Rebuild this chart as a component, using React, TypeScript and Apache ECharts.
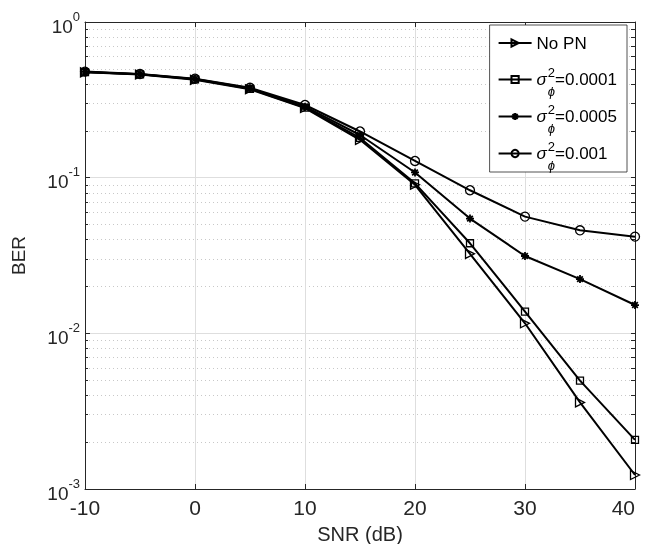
import React, { useEffect, useRef } from "react";
import * as echarts from "echarts";

const snr = [-10, -5, 0, 5, 10, 15, 20, 25, 30, 35, 40];
const berNoPN = [0.475, 0.46, 0.425, 0.37, 0.28, 0.175, 0.09, 0.0324, 0.0116, 0.0036, 0.00123];
const ber1e4 = [0.477, 0.461, 0.428, 0.372, 0.282, 0.18, 0.092, 0.0379, 0.0138, 0.00497, 0.00207];
const ber5e4 = [0.478, 0.462, 0.43, 0.375, 0.286, 0.188, 0.108, 0.0546, 0.0314, 0.0223, 0.0152];
const ber1e3 = [0.48, 0.463, 0.432, 0.378, 0.293, 0.198, 0.128, 0.083, 0.0562, 0.0459, 0.0418];
const seriesNames = ["No PN", "s1", "s5", "s10"];
const legendValues: Record<string, string> = { s1: "0.0001", s5: "0.0005", s10: "0.001" };
const xTicks = [-10, 0, 10, 20, 30, 40];
const majorY = [0.001, 0.01, 0.1, 1];
const minorY: number[] = [];
for (const d of [0.001, 0.01, 0.1]) for (let k = 2; k <= 9; k++) minorY.push(+(d * k).toPrecision(3));

const FONT = "'Liberation Sans', Arial, Helvetica, sans-serif";
const AX = "#262626";

const triRight = "path://M0,0 L10,5 L0,10 Z";
const asterisk = "path://M5,0 L5,10 M0,5 L10,5 M1.5,1.5 L8.5,8.5 M8.5,1.5 L1.5,8.5";

export default function App() {
  const ref = useRef<HTMLDivElement>(null);
  useEffect(() => {
    const chart = echarts.init(ref.current!, null, { renderer: "svg" });
    const mk = (name: string, data: number[], symbol: string, size: number, bw = 1.3) => ({
      name,
      type: "line",
      data: snr.map((x, i) => [x, data[i]]),
      symbol,
      symbolSize: size,
      showAllSymbol: true,
      lineStyle: { color: "#000", width: 2 },
      itemStyle: { color: "rgba(255,255,255,0)", borderColor: "#000", borderWidth: bw },
      emphasis: { disabled: true },
      z: 3,
    });
    chart.setOption({
      animation: false,
      grid: { left: 85, top: 22, right: 13, bottom: 55, containLabel: false, outerBoundsMode: "none" },
      legend: {
        orient: "vertical",
        right: 21,
        top: 25,
        backgroundColor: "#fff",
        borderColor: AX,
        borderWidth: 0.8,
        borderRadius: 0,
        padding: [0, 10, 0, 8],
        itemGap: 0,
        itemWidth: 33,
        itemHeight: 9,
        data: seriesNames,
        formatter: (n: string) =>
          n === "No PN" ? `{t|No PN}{h| }` : `{s|σ}{p|2}{q|ϕ}{t|=${legendValues[n]}}`,
        textStyle: {
          fontFamily: FONT,
          color: "#000",
          fontSize: 17,
          rich: {
            t: { fontFamily: FONT, fontSize: 17, color: "#000", lineHeight: 20, verticalAlign: "middle" },
            h: { fontFamily: FONT, fontSize: 12, color: "#000", lineHeight: 13, verticalAlign: "middle", padding: [24, 0, 0, 0], width: 0 },
            s: { fontFamily: FONT, fontSize: 17, fontStyle: "italic", color: "#000", lineHeight: 20, verticalAlign: "middle", padding: [0, 1, 0, 0] },
            p: { fontFamily: FONT, fontSize: 13, color: "#000", lineHeight: 13, verticalAlign: "middle", padding: [0, 0, 14, 0], width: 0 },
            q: { fontFamily: FONT, fontSize: 13, fontStyle: "italic", color: "#000", lineHeight: 13, verticalAlign: "middle", padding: [24, 0, 0, 0] },
          },
        },
      },
      xAxis: [
        {
          type: "value",
          min: -10,
          max: 40,
          interval: 10,
          position: "bottom",
          name: "SNR (dB)",
          nameLocation: "middle",
          nameGap: 29,
          nameTextStyle: { fontFamily: FONT, fontSize: 20, color: AX, lineHeight: 22 },
          axisLine: { onZero: false, lineStyle: { color: AX, width: 1 } },
          axisTick: { inside: true, length: 5, lineStyle: { color: AX }, customValues: xTicks },
          axisLabel: { fontFamily: FONT, fontSize: 21, color: AX, margin: 8, customValues: xTicks, alignMaxLabel: "right" },
          splitLine: { show: true, lineStyle: { color: "#dedede", width: 1 } },
        },
        {
          type: "value",
          min: -10,
          max: 40,
          interval: 10,
          position: "top",
          axisLine: { onZero: false, lineStyle: { color: AX, width: 1 } },
          axisTick: { inside: true, length: 5, lineStyle: { color: AX } },
          axisLabel: { show: false },
          splitLine: { show: false },
        },
      ],
      yAxis: [
        {
          type: "log",
          logBase: 10,
          min: 0.001,
          max: 1,
          position: "left",
          name: "BER",
          nameLocation: "middle",
          nameGap: 57,
          nameRotate: 90,
          nameTextStyle: { fontFamily: FONT, fontSize: 19, color: AX },
          axisLine: { onZero: false, lineStyle: { color: AX, width: 1 } },
          axisTick: { inside: true, length: 5, lineStyle: { color: AX }, customValues: majorY },
          axisLabel: {
            customValues: majorY,
            margin: 5,
            formatter: (v: number) => `{b|10}{e|${Math.round(Math.log10(v))}}`,
            rich: {
              b: { fontFamily: FONT, fontSize: 19, color: AX, lineHeight: 19, verticalAlign: "middle", padding: [8, 0, 0, 0] },
              e: { fontFamily: FONT, fontSize: 13, color: AX, lineHeight: 13, verticalAlign: "middle", padding: [0, 0, 12, 0] },
            },
          },
          splitLine: { show: true, lineStyle: { color: "#dedede", width: 1 } },
        },
        {
          type: "log",
          logBase: 10,
          min: 0.001,
          max: 1,
          position: "left",
          axisLine: { show: false, onZero: false },
          axisTick: { inside: true, length: 3, lineStyle: { color: AX }, customValues: minorY },
          axisLabel: { show: false },
          splitLine: { show: true, lineStyle: { color: "#c8c8c8", width: 1, type: [1, 3] } },
        },
        {
          type: "log",
          logBase: 10,
          min: 0.001,
          max: 1,
          position: "right",
          axisLine: { show: true, onZero: false, lineStyle: { color: AX, width: 1 } },
          axisTick: { inside: true, length: 4, lineStyle: { color: AX }, customValues: [...majorY, ...minorY] },
          axisLabel: { show: false },
          splitLine: { show: false },
        },
      ],
      series: [
        mk("No PN", berNoPN, triRight, 9),
        mk("s1", ber1e4, "rect", 7),
        mk("s5", ber5e4, asterisk, 8, 1.8),
        mk("s10", ber1e3, "circle", 9),
      ],
    });
    return () => chart.dispose();
  }, []);
  return (
    <div
      ref={ref}
      style={{ position: "fixed", left: 0, top: 0, width: 648, height: 544, overflow: "hidden" }}
    />
  );
}
